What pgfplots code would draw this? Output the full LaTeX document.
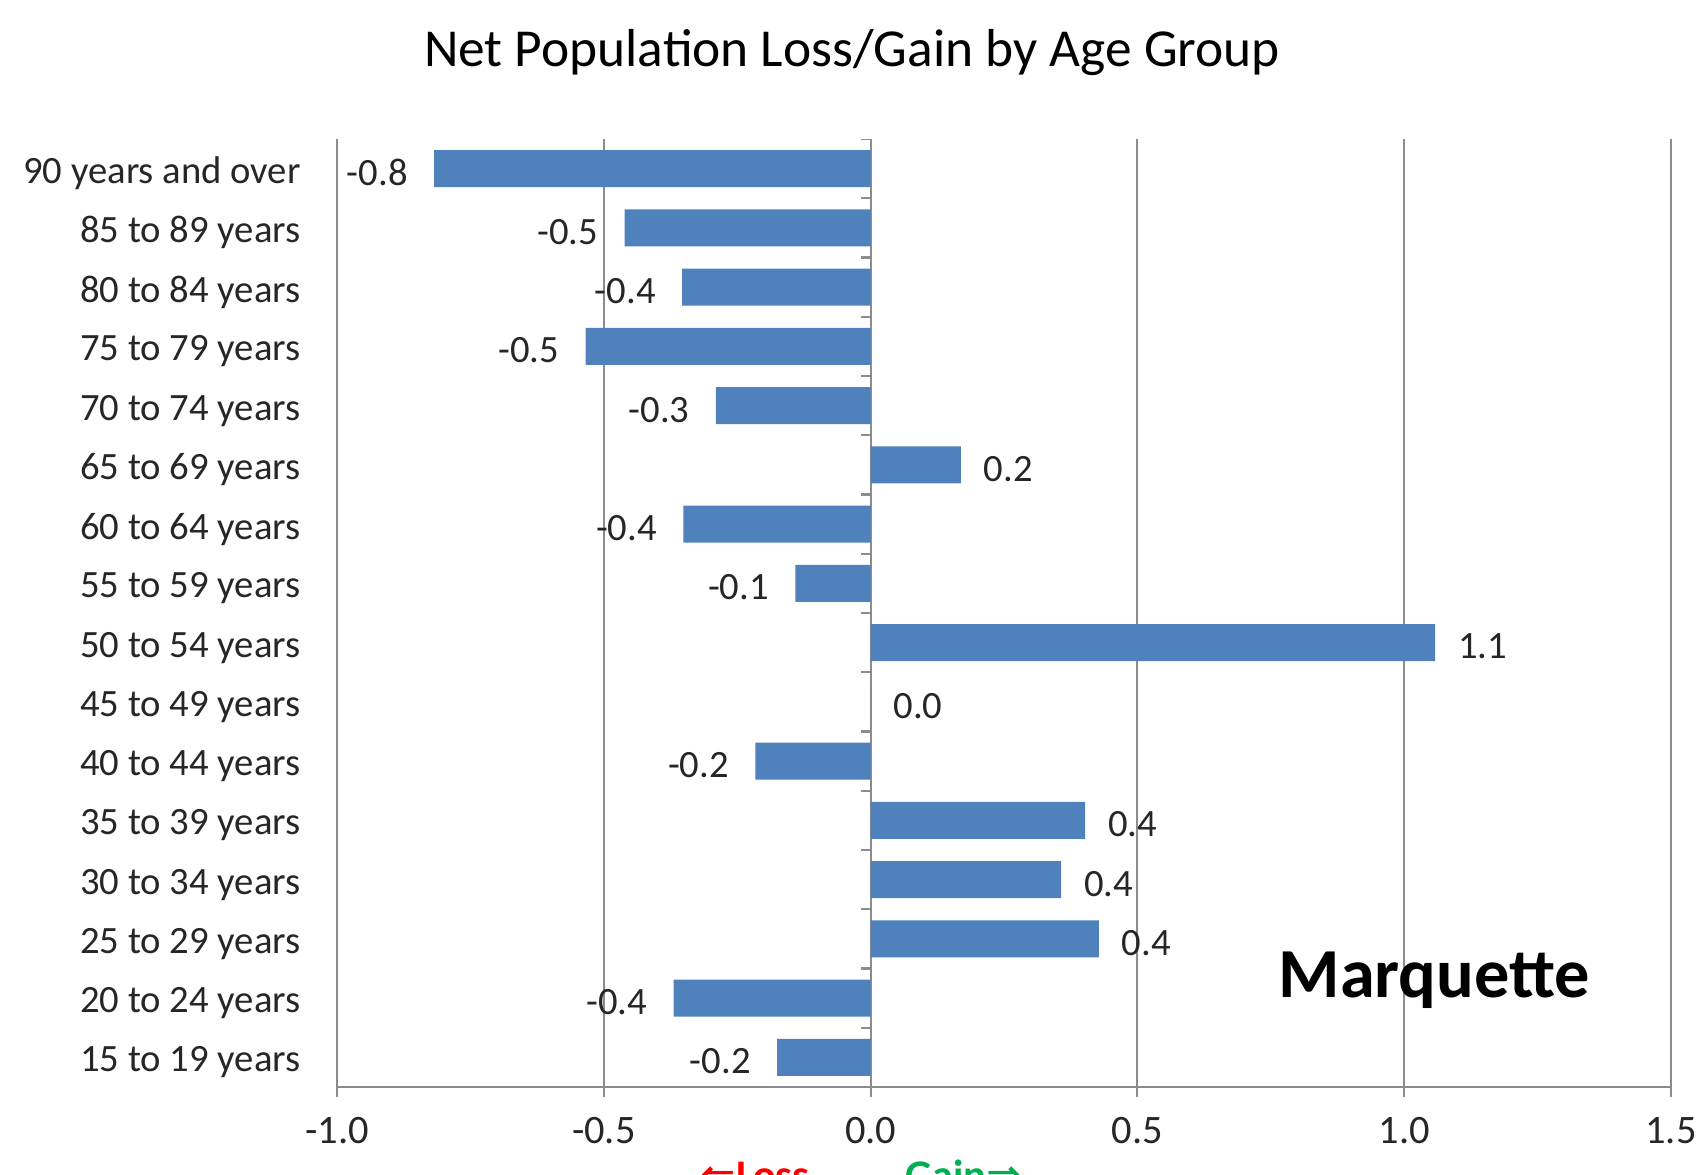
\documentclass[border=0pt]{standalone}
\usepackage{pgfplots}
\pgfplotsset{compat=1.18}
\usepackage{fontspec}
\setmainfont{Carlito}
\newfontfamily\arrowfont{DejaVu Sans}
\definecolor{barblue}{HTML}{4F81BD}
\definecolor{gridgray}{HTML}{8C8C8C}
\definecolor{txt}{HTML}{262626}
\definecolor{lossred}{HTML}{FF0000}
\definecolor{gaingreen}{HTML}{00B050}
\begin{document}
\begin{tikzpicture}
% page = 1706 x 1174 px at 0.01cm per px; plot box lower left at (0,0)
\path[use as bounding box] (-3.37cm,-0.87cm) rectangle (13.69cm,10.87cm);
\begin{axis}[
    at={(0,0)}, anchor=south west,
    width=13.34cm, height=9.48cm, scale only axis,
    xbar, bar width=0.625,
    xmin=-1, xmax=1.5, ymin=-0.5, ymax=15.5,
    xtick={-1,-0.5,0,0.5,1,1.5},
    ytick={0,...,15},
    yticklabels={15 to 19 years,20 to 24 years,25 to 29 years,30 to 34 years,
        35 to 39 years,40 to 44 years,45 to 49 years,50 to 54 years,
        55 to 59 years,60 to 64 years,65 to 69 years,70 to 74 years,
        75 to 79 years,80 to 84 years,85 to 89 years,90 years and over},
    axis x line*=bottom, axis y line*=left,
    axis line style={gridgray, line width=0.6pt},
    xmajorgrids, grid style={gridgray, line width=0.6pt},
    tick align=outside,
    major tick length=0.1cm,
    x tick style={gridgray, line width=0.6pt},
    ytick style={draw=none},
    yticklabel style={font=\fontsize{11}{13}\selectfont, text=txt, xshift=-0.14cm, yshift=-0.05cm},
    xticklabel style={font=\fontsize{11.5}{13}\selectfont, text=txt, yshift=-0.08cm},
    /pgf/number format/.cd, fixed, fixed zerofill, precision=1, assume math mode=true,
    /pgfplots/.cd,
    point meta=x,
    nodes near coords,
    every node near coord/.append style={font=\fontsize{11}{13}\selectfont, text=txt, yshift=-0.04cm},
]
% bars to the left of zero
\addplot[fill=barblue, draw=none, bar shift=0pt,
    nodes near coords style={anchor=east, xshift=-4pt}] coordinates {
    (-0.818,15)
    (-0.461,14)
    (-0.353,13)
    (-0.534,12)
    (-0.290,11)
    (-0.351,9)
    (-0.141,8)
    (-0.216,5)
    (-0.369,1)
    (-0.175,0)
};
% bars to the right of zero
\addplot[fill=barblue, draw=none, bar shift=0pt,
    nodes near coords style={anchor=west, xshift=3pt}] coordinates {
    (0.169,10)
    (1.058,7)
    (0.000,6)
    (0.402,4)
    (0.357,3)
    (0.428,2)
};
% category axis ticks at zero
\pgfplotsinvokeforeach{0,...,16}{
    \draw[gridgray, line width=0.6pt] (axis cs:0,#1-0.5) -- ([xshift=-0.1cm]axis cs:0,#1-0.5);
}
\end{axis}
\node[anchor=base, font=\fontsize{15.2}{18}\selectfont] at (5.15cm,10.20cm)
    {Net Population Loss/Gain by Age Group};
\node[anchor=base west, inner sep=0pt, font=\fontsize{20}{24}\selectfont\bfseries]
    at (9.41cm,0.90cm) {Marquette};
\node[anchor=base west, inner sep=0pt, text=lossred, font=\fontsize{12}{14}\selectfont\bfseries]
    at (3.63cm,-1.02cm) {{\arrowfont ⇐}Loss};
\node[anchor=base west, inner sep=0pt, text=gaingreen, font=\fontsize{12}{14}\selectfont\bfseries]
    at (5.68cm,-1.02cm) {Gain{\arrowfont ⇒}};
\end{tikzpicture}
\end{document}
